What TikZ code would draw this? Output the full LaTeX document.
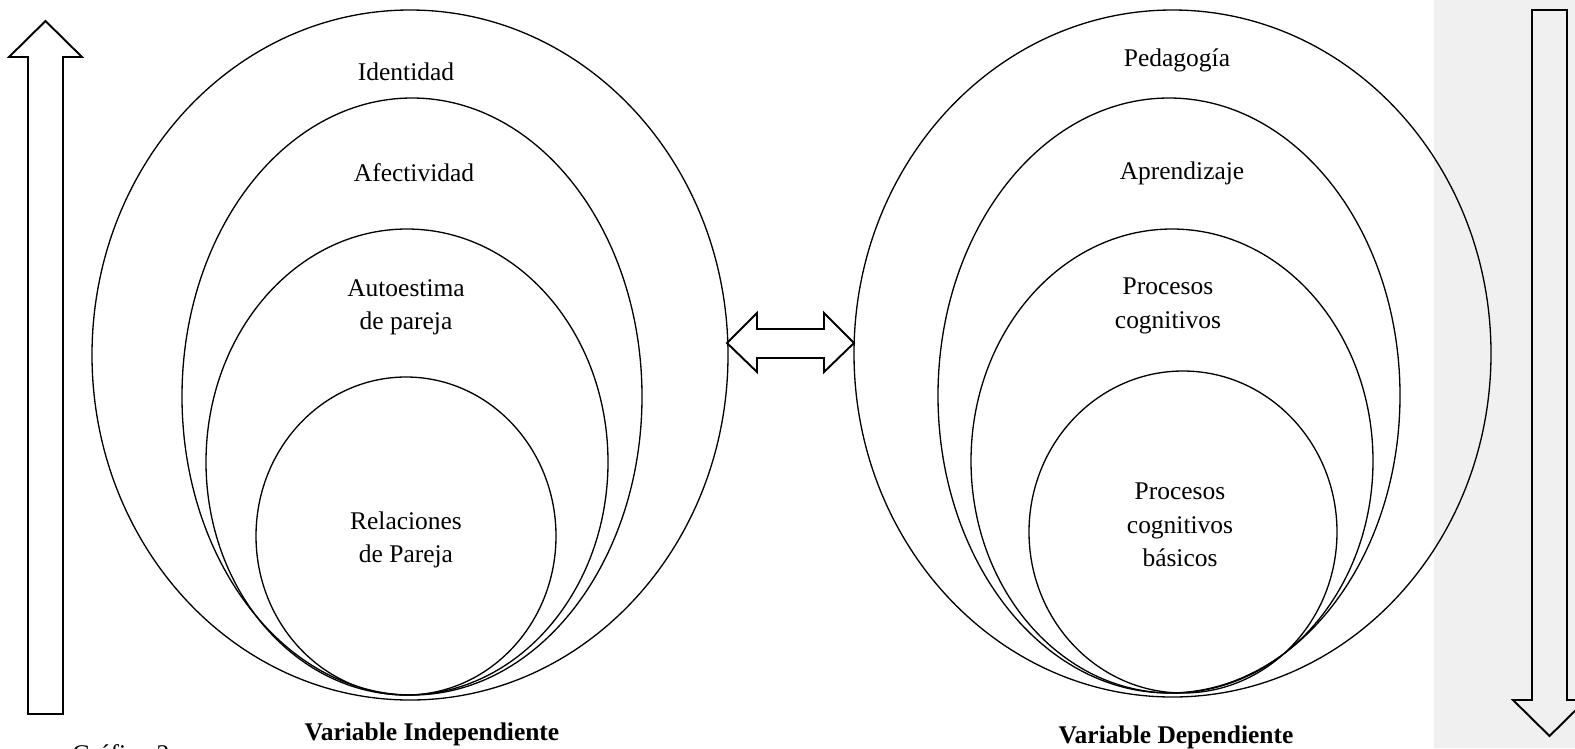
\documentclass[tikz,border=0pt]{standalone}
\usepackage{fontspec}
\setmainfont{Liberation Serif}
\usetikzlibrary{calc}

\begin{document}
\begin{tikzpicture}[x=0.02cm, y=-0.02cm,
		every node/.style={font=\fontsize{14.5}{19}\selectfont, align=center, inner sep=0pt},
		rim/.style={line width=0.75pt},
		hollow/.style={line width=1.1pt, line join=miter},
		title/.style={font=\fontsize{14.5}{19}\selectfont\bfseries}]
		
		\useasboundingbox (0,0) rectangle (1575,748);
		\clip (0,0) rectangle (1575,748);
		
		% grey margin on the right
		\fill [gray!12] (1434,0) rectangle (1575,748);
		
		\coordinate (L) at (410,355);
		\coordinate (R) at (1172.5,353.5);
		
		% left set
		\draw [rim] (L) ellipse [x radius=318, y radius=345];
		\draw [rim] (412,396.5) ellipse [x radius=230, y radius=298.5];
		\draw [rim] (407,462) ellipse [x radius=201, y radius=233];
		\draw [rim] (406,536) ellipse [x radius=150, y radius=159];
		
		% right set
		\draw [rim] (R) ellipse [x radius=318.5, y radius=343.5];
		\draw [rim] (1169,395.5) ellipse [x radius=231, y radius=297.5];
		\draw [rim] (1172,461) ellipse [x radius=201, y radius=232];
		\draw [rim] (1183,532) ellipse [x radius=154, y radius=161];
		
		\node (ident) at (406,72) {Identidad};
		\node (afect) at (414,173) {Afectividad};
		\node (autoest) at (406,307) {Autoestima\\de pareja};
		\node (relac) at (406,540) {Relaciones\\de Pareja};
		
		\node (pedag) at (1177,60) {Pedagogía};
		\node (aprend) at (1182,173) {Aprendizaje};
		\node (procs) at (1168,306) {Procesos\\cognitivos};
		\node (basic) at (1180,525) {Procesos\\cognitivos\\básicos};
		
		\node [title] (indep) at (432,734) {Variable Independiente};
		\node [title] (dep) at (1176,737) {Variable Dependiente};
		\node [anchor=base west] (graf) at (72,762) {Gráfico 2};
		
		% up arrow
		\draw [hollow] (28,714) -- (28,57) -- (9,57) -- (45.5,21) -- (82,57) -- (63,57) -- (63,714) -- cycle;
		
		% down arrow
		\draw [hollow] (1532,10) -- (1532,700) -- (1513,700) -- (1549.5,736) -- (1586,700) -- (1567,700) -- (1567,10) -- cycle;
		
		% double arrow between the sets
		\coordinate (tipL) at (727,343);
		\coordinate (tipR) at (854,343);
		\draw [hollow] (tipL) -- (757,313) -- (757,329) -- (824,329) -- (824,313) -- (tipR)
			-- (824,372) -- (824,358) -- (757,358) -- (757,372) -- cycle;
	\end{tikzpicture}
\end{document}
